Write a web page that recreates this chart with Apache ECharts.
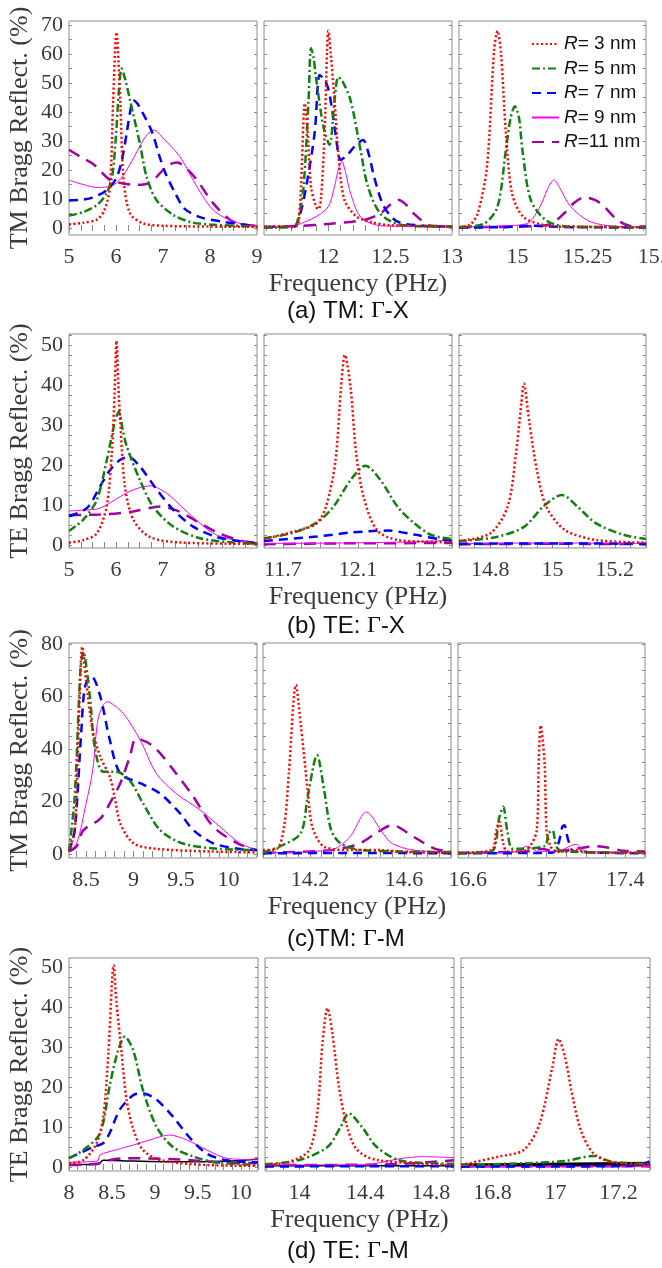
<!DOCTYPE html>
<html><head><meta charset="utf-8">
<script src="https://cdn.jsdelivr.net/npm/echarts@6/dist/echarts.min.js"></script>
<style>html,body{margin:0;padding:0;background:#fff}#c{width:662px;height:1268px}</style>
</head><body><div id="c"></div>
<script>
// ---------------- DATA ----------------
const seriesNames = ['R= 3 nm', 'R= 5 nm', 'R= 7 nm', 'R= 9 nm', 'R=11 nm'];
const rowYNames = ['TM Bragg Reflect. (%)', 'TE Bragg Reflect. (%)', 'TM Bragg Reflect. (%)', 'TE Bragg Reflect. (%)'];
const rowCaptions = ['(a) TM: ', '(b) TE: ', '(c)TM: ', '(d) TE: '];
const rowCaptionTails = ['-X', '-X', '-M', '-M'];
const xAxisTitle = 'Frequency (PHz)';

const rowYLabels = [
  [0, 10, 20, 30, 40, 50, 60, 70],
  [0, 10, 20, 30, 40, 50],
  [0, 20, 40, 60, 80],
  [0, 10, 20, 30, 40, 50]
];
const panelXLabels = [
  [5, 6, 7, 8, 9], [12, 12.5, 13], [15, 15.25],
  [5, 6, 7, 8], [11.7, 12.1, 12.5], [14.8, 15, 15.2],
  [8.5, 9, 9.5, 10], [14.2, 14.6], [16.6, 17, 17.4],
  [8, 8.5, 9, 9.5, 10], [14, 14.4, 14.8], [16.8, 17, 17.2]
];

// (a) TM: Γ-X
const a1_r3 = [[5,1.3],[5.3,1.8],[5.6,3],[5.75,6],[5.87,14],[5.94,44],[6.01,67.5],[6.09,44],[6.16,17],[6.3,5],[6.58,1.6],[7,0.8],[8,0.5],[9,0.4]];
const a1_r5 = [[5,4.3],[5.3,5.5],[5.6,8],[5.8,12],[5.92,18],[6.0,32],[6.06,47],[6.12,55],[6.2,51],[6.3,44],[6.51,29],[6.65,17.7],[6.86,9.7],[7.22,4.5],[7.6,2],[8,1.2],[9,0.5]];
const a1_r7 = [[5,9.5],[5.3,9.8],[5.5,10.5],[5.8,13],[6.0,17],[6.12,23],[6.23,33],[6.3,40],[6.37,44],[6.45,43],[6.56,40],[6.77,33],[6.92,25],[7.05,19],[7.26,12],[7.47,6.5],[7.82,3.6],[8.26,2.2],[9,0.5]];
const a1_r9 = [[5,16.5],[5.3,15],[5.6,14],[5.9,14.5],[6.1,17],[6.3,22],[6.5,28],[6.65,32],[6.81,33.8],[7.0,31],[7.36,24.6],[7.72,14.3],[8.07,6.2],[8.5,2.2],[9,0.8]];
const a1_r11 = [[5,27],[5.25,24.5],[5.52,22],[5.87,16.6],[6.1,15.5],[6.39,14.9],[6.72,15.6],[7.0,20],[7.15,22],[7.3,22.6],[7.5,20.5],[7.72,16.6],[8.07,8.5],[8.43,2.8],[8.7,1.3],[9,0.8]];

const a2_r3 = [[11.48,0.5],[11.74,0.6],[11.76,2],[11.78,15],[11.81,43],[11.83,35],[11.86,14.3],[11.9,7.4],[11.92,6.5],[11.94,9.7],[11.97,32.7],[11.99,61.5],[12.0,68],[12.02,60],[12.05,44],[12.08,26],[12.13,9.7],[12.23,3.9],[12.35,2],[12.5,1],[13,0.5]];
const a2_r5 = [[11.48,0.2],[11.72,0.3],[11.76,4],[11.8,14.3],[11.84,44],[11.86,62],[11.88,59],[11.9,52],[11.96,35],[12.01,28.7],[12.05,44],[12.08,52],[12.11,51],[12.18,44],[12.26,27],[12.32,14.3],[12.42,5],[12.56,1.4],[12.8,0.6],[13,0.5]];
const a2_r7 = [[11.48,0.3],[11.72,0.4],[11.76,3],[11.82,14],[11.89,33],[11.93,52.8],[11.97,51],[12.0,48],[12.03,41],[12.06,32],[12.1,23.5],[12.15,25],[12.21,28],[12.28,30.4],[12.33,25],[12.37,17.7],[12.45,7.4],[12.56,2.2],[12.77,0.8],[13,0.5]];
const a2_r9 = [[11.48,0.3],[11.72,0.4],[11.76,1.2],[11.9,3.9],[12.0,7.4],[12.05,14.3],[12.08,20],[12.11,23],[12.14,19],[12.18,12],[12.26,3.9],[12.42,0.8],[13,0.4]];
const a2_r11 = [[11.48,0.4],[11.75,0.7],[12.02,1.5],[12.29,2.8],[12.42,5],[12.5,8],[12.57,9.7],[12.63,8],[12.69,5],[12.83,0.8],[13,0.5]];

const a3_r3 = [[14.79,0.3],[14.83,1.2],[14.857,5],[14.89,21],[14.916,61.5],[14.928,68],[14.94,61],[14.958,32.7],[14.98,12],[15.02,3.9],[15.095,1],[15.2,0.4],[15.46,0.3]];
const a3_r5 = [[14.79,0.3],[14.88,1.5],[14.928,7.4],[14.958,27],[14.975,38],[14.99,42],[15.005,38],[15.017,27],[15.047,9.7],[15.1,2.8],[15.17,0.6],[15.46,0.3]];
const a3_r7 = [[14.79,0.2],[14.95,0.3],[15.05,0.8],[15.1,0.6],[15.2,0.3],[15.46,0.2]];
const a3_r9 = [[14.79,0.3],[14.95,0.8],[15.035,1.6],[15.08,7.4],[15.11,14],[15.13,16.6],[15.15,14],[15.19,7.4],[15.26,2.2],[15.35,0.6],[15.46,0.3]];
const a3_r11 = [[14.79,0.3],[15.05,0.6],[15.12,1.5],[15.166,5],[15.2,8.5],[15.24,10.6],[15.28,9.5],[15.31,7.4],[15.357,2.8],[15.4,0.8],[15.46,0.5]];

// (b) TE: Γ-X
const b1_r3 = [[5,0.6],[5.3,1.2],[5.59,2.9],[5.8,9.6],[5.91,23],[5.97,38],[6.01,51],[6.05,40],[6.09,31],[6.19,14.6],[6.37,6.3],[6.72,2],[7.4,0.6],[9,0.3]];
const b1_r5 = [[5,3.5],[5.3,6.3],[5.59,11.2],[5.8,21],[5.98,31],[6.06,33.3],[6.14,29],[6.23,24.6],[6.51,16.2],[6.79,9.6],[7.22,4.6],[7.79,1.7],[8.5,0.6],[9,0.3]];
const b1_r7 = [[5,7.2],[5.38,9.2],[5.66,14.6],[5.87,18.7],[6.09,21.3],[6.26,22],[6.51,19.6],[6.87,13.8],[7.22,8.8],[7.64,4.6],[8.14,2],[8.62,1],[9,0.4]];
const b1_r9 = [[5,8.5],[5.3,8.7],[5.66,9.2],[6.09,12.1],[6.37,13.8],[6.72,14.8],[7.08,12.9],[7.43,9.2],[7.79,5.4],[8.14,2.5],[8.62,1],[9,0.6]];
const b1_r11 = [[5,7.5],[5.66,7.6],[6.37,8.4],[6.94,9.6],[7.36,8.3],[7.79,5.4],[8.2,2.9],[8.69,1],[9,0.5]];

const b2_r3 = [[11.6,1.5],[11.79,3.75],[11.88,5.4],[11.93,9.6],[11.98,21],[12.01,39.6],[12.03,47.5],[12.06,39.6],[12.09,23],[12.13,12],[12.2,3.75],[12.31,1.25],[12.5,0.8],[12.6,0.6]];
const b2_r5 = [[11.6,1.7],[11.75,3],[11.88,5.6],[11.97,9.6],[12.06,16.2],[12.14,19.8],[12.22,16.2],[12.31,9.6],[12.4,5.4],[12.49,2.5],[12.6,1.5]];
const b2_r7 = [[11.6,1],[11.88,2.1],[12.06,3.1],[12.26,3.6],[12.4,2.6],[12.55,1.3],[12.6,1.1]];
const b2_r9 = [[11.6,0.4],[12.0,0.5],[12.4,0.8],[12.6,1.2]];
const b2_r11 = [[11.6,0.2],[12.0,0.4],[12.6,0.5]];

const b3_r3 = [[14.7,1],[14.8,2.9],[14.856,9.6],[14.883,23],[14.9,35.4],[14.908,40.4],[14.925,31],[14.95,18.7],[14.98,9.6],[15.04,3.75],[15.14,1.25],[15.3,0.6]];
const b3_r5 = [[14.7,1],[14.82,2],[14.91,4.6],[14.97,9.6],[15.03,12.5],[15.08,9.6],[15.14,5.4],[15.23,2.5],[15.3,1.5]];
const b3_r7 = [[14.7,0.3],[15.0,0.4],[15.3,0.3]];
const b3_r9 = [[14.7,0.4],[15.0,0.5],[15.3,0.4]];
const b3_r11 = [[14.7,0.2],[15.0,0.3],[15.3,0.2]];

// (c) TM: Γ-M
const c1_r3 = [[8.32,1.2],[8.38,9],[8.42,47],[8.46,79],[8.5,66],[8.57,47],[8.65,37],[8.75,29.4],[8.8,21.8],[8.86,11.7],[9.0,4.1],[9.24,2],[9.8,1],[10.3,0.6]];
const c1_r5 = [[8.32,1],[8.38,21.8],[8.44,70],[8.47,77],[8.54,60],[8.59,41],[8.68,31.4],[8.82,31.4],[8.96,28],[9.1,19.3],[9.28,9.1],[9.52,4],[9.9,2],[10.3,1.5]];
const c1_r7 = [[8.32,1],[8.38,9],[8.45,47],[8.49,64],[8.56,67.5],[8.65,60],[8.75,43.4],[8.86,30.7],[9.07,27],[9.28,23],[9.49,15.5],[9.63,9.1],[9.84,4.1],[10.1,2],[10.3,1.5]];
const c1_r9 = [[8.32,1.5],[8.4,4],[8.5,19.3],[8.57,32],[8.63,52],[8.72,58],[8.89,53.6],[9.07,43.4],[9.24,30.7],[9.45,23],[9.7,16.8],[9.91,10.4],[10.12,4.1],[10.3,1.5]];
const c1_r11 = [[8.32,1],[8.4,3],[8.47,9],[8.65,13.5],[8.75,19.3],[8.86,27],[8.96,37],[9.03,44],[9.21,41],[9.42,32],[9.63,21.8],[9.84,10.4],[10.1,4],[10.3,1.5]];

const c2_r3 = [[14.0,1.5],[14.06,2.1],[14.09,10.4],[14.11,30.7],[14.14,64.4],[14.16,50],[14.19,24.4],[14.21,10.4],[14.26,2.8],[14.38,1.5],[14.5,1.5],[14.6,0.8],[14.8,0.5]];
const c2_r5 = [[14.0,0.5],[14.07,2.8],[14.16,7.9],[14.19,21.8],[14.23,37.7],[14.26,24.4],[14.29,9.1],[14.33,4.1],[14.42,1.5],[14.8,0.8]];
const c2_r7 = [[14.0,0.3],[14.4,0.4],[14.8,0.3]];
const c2_r9 = [[14.0,0.5],[14.29,1.6],[14.37,6.6],[14.44,16],[14.51,7.9],[14.55,4],[14.64,1.5],[14.8,0.8]];
const c2_r11 = [[14.0,0.5],[14.29,1.5],[14.41,4],[14.48,7.9],[14.55,11],[14.64,6.6],[14.73,2.1],[14.8,1]];

const c3_r3 = [[16.55,0.5],[16.72,1.5],[16.745,9.1],[16.76,12.3],[16.78,4],[16.8,1],[16.88,1],[16.95,9],[16.96,34.5],[16.97,49],[16.99,34.5],[17.0,9.1],[17.02,3],[17.05,0.8],[17.15,1.5],[17.25,0.5],[17.5,0.5]];
const c3_r5 = [[16.55,0.3],[16.72,1],[16.76,14],[16.78,18],[16.8,9.1],[16.83,2],[16.99,3],[17.01,7.9],[17.03,9],[17.05,2.8],[17.08,1],[17.5,0.5]];
const c3_r7 = [[16.55,0.3],[17.03,0.5],[17.06,4],[17.08,10.4],[17.09,11],[17.11,5.3],[17.14,1],[17.5,0.3]];
const c3_r9 = [[16.55,0.3],[16.84,0.8],[16.9,3],[16.95,1.2],[17.05,1],[17.15,3.7],[17.2,1],[17.5,0.5]];
const c3_r11 = [[16.55,0.5],[16.9,1],[16.96,2],[17.05,1.2],[17.26,3],[17.39,1.3],[17.5,1]];

// (d) TE: Γ-M
const d1_r3 = [[8,0.9],[8.17,1.75],[8.32,5.9],[8.4,12.6],[8.46,29],[8.52,50.5],[8.55,41.8],[8.61,29],[8.67,16.8],[8.75,9.3],[8.86,4.3],[9.06,1.75],[9.6,0.5],[10.2,0.3]];
const d1_r5 = [[8,2.2],[8.17,4.3],[8.36,8.4],[8.48,21],[8.57,29],[8.65,32.6],[8.75,29],[8.86,19.3],[9.02,10],[9.21,5],[9.45,2.6],[9.7,1.2],[10.2,0.5]];
const d1_r7 = [[8,2.2],[8.28,5],[8.4,6],[8.48,8.8],[8.59,14.3],[8.75,18],[8.86,18.4],[9.02,16.8],[9.21,12.6],[9.41,7.2],[9.6,3.4],[9.8,1.8],[10.0,1.3],[10.2,1.2]];
const d1_r9 = [[8,1.2],[8.33,1.5],[8.36,3],[8.55,4.3],[8.75,5.5],[8.94,6.75],[9.17,8],[9.37,6.75],[9.6,4.3],[9.83,2.2],[10.2,1.8]];
const d1_r11 = [[8,0.5],[8.32,0.8],[8.48,1.75],[8.67,2.2],[9.15,2],[9.55,1.5],[9.9,1],[10.2,1]];
const d1_ref = [[8,0.6],[8.33,0.6],[8.4,1.7],[8.75,1.5],[9.4,1.3],[9.9,1.5],[10.2,2]];

const d2_r3 = [[13.79,0.5],[13.94,1.3],[14.06,4.3],[14.11,14.3],[14.14,31],[14.17,39.7],[14.2,33.4],[14.24,20],[14.29,10],[14.35,4.3],[14.47,1.75],[14.94,0.4]];
const d2_r5 = [[13.79,0.7],[14.0,1.75],[14.17,5],[14.25,10],[14.3,13.4],[14.38,10],[14.47,5],[14.6,1.75],[14.76,1],[14.94,0.8]];
const d2_r7 = [[13.79,0.1],[14.4,0.2],[14.94,0.2]];
const d2_r9 = [[13.79,0.5],[14.4,0.6],[14.6,2],[14.75,2.6],[14.94,2.3]];
const d2_r11 = [[13.79,0.5],[14.5,0.6],[14.94,1.7]];
const d2_ref = [[13.79,0.3],[14.94,0.3]];

const d3_r3 = [[16.7,0.5],[16.82,2.6],[16.9,4.3],[16.95,11],[16.99,25],[17.01,32],[17.03,27.6],[17.05,19.3],[17.08,9.3],[17.12,3.4],[17.18,1.2],[17.3,0.6]];
const d3_r5 = [[16.7,0.5],[16.92,1],[17.03,1.5],[17.12,2.75],[17.18,1.3],[17.3,0.8]];
const d3_r7 = [[16.7,0.1],[17.2,0.2],[17.28,0.8],[17.3,1.5]];
const d3_r9 = [[16.7,0.1],[17.3,0.1]];
const d3_r11 = [[16.7,0.2],[17.3,0.2]];
const d3_ref = [[16.7,0.4],[17.3,0.8]];

const panelData = [
  [a1_r3,a1_r5,a1_r7,a1_r9,a1_r11], [a2_r3,a2_r5,a2_r7,a2_r9,a2_r11], [a3_r3,a3_r5,a3_r7,a3_r9,a3_r11],
  [b1_r3,b1_r5,b1_r7,b1_r9,b1_r11], [b2_r3,b2_r5,b2_r7,b2_r9,b2_r11], [b3_r3,b3_r5,b3_r7,b3_r9,b3_r11],
  [c1_r3,c1_r5,c1_r7,c1_r9,c1_r11], [c2_r3,c2_r5,c2_r7,c2_r9,c2_r11], [c3_r3,c3_r5,c3_r7,c3_r9,c3_r11],
  [d1_r3,d1_r5,d1_r7,d1_r9,d1_r11], [d2_r3,d2_r5,d2_r7,d2_r9,d2_r11], [d3_r3,d3_r5,d3_r7,d3_r9,d3_r11]
];
const refData = {9: d1_ref, 10: d2_ref, 11: d3_ref};

// ---------------- LAYOUT / STYLE ----------------
const panelX = [ // [xmin, xmax, minor tick step]
  [5, 9, 0.25], [11.48, 13, 0.1], [14.79, 15.46, 0.05],
  [5, 9, 0.25], [11.6, 12.6, 0.1], [14.7, 15.3, 0.05],
  [8.32, 10.3, 0.1], [14.0, 14.8, 0.05], [16.55, 17.5, 0.1],
  [8, 10.2, 0.1], [13.79, 14.94, 0.1], [16.7, 17.3, 0.05]
];
const rowY = [ // [ymin, ymax, tick step]
  [-2.4, 71.4, 5], [-0.75, 52.75, 2.5], [-1.5, 80.4, 5], [-1, 52.25, 2.5]
];
const rowBox = [ // [top, height]
  [21, 214], [334, 214], [643, 215], [958, 213]
];
const colBox = [ // per row: [[left,width] x3]
  [[69,188],[264,188],[459,187]],
  [[69,188],[264,188],[459,187]],
  [[69,188],[263,188],[458,187]],
  [[69,189],[265,189],[461,189]]
];
const captionY = [312, 627, 940, 1252];

const styles = [
  {color:'#ff0000', width:2.5, type:[2,2.5]},
  {color:'#10800f', width:2.5, type:[8,3,2,3]},
  {color:'#0000ff', width:2.5, type:[9,6]},
  {color:'#ff00ff', width:1, type:'solid'},
  {color:'#a000a8', width:2.5, type:[12,8]}
];
const SERIF = '"Liberation Serif","Times New Roman",serif';
const SANS = '"Liberation Sans",Arial,sans-serif';
const TXT = '#3a3a3a';

function range(a, b, s) {
  const out = [];
  for (let k = 0; ; k++) { const v = +(a + k * s).toFixed(6); if (v > b + 1e-9) break; out.push(v); }
  return out;
}

const grids = [], xAxes = [], yAxes = [], series = [];
const xMirror = [], yMirror = [];
const tickStyle = {show: true, inside: true, length: 3, lineStyle: {color: '#888', width: 1}};
for (let p = 0; p < 12; p++) {
  const r = Math.floor(p / 3), c = p % 3;
  grids.push({left: colBox[r][c][0], top: rowBox[r][0], width: colBox[r][c][1], height: rowBox[r][1],
    show: true, borderColor: '#8c8c8c', borderWidth: 1, backgroundColor: '#fff',
    containLabel: false, outerBoundsMode: 'none'});
  const [xmin, xmax, xs] = panelX[p];
  const startTick = Math.ceil(xmin / xs - 1e-9) * xs;
  const xt = range(startTick, xmax, xs);
  xAxes.push({type: 'value', gridIndex: p, min: xmin, max: xmax,
    axisLine: {show: false}, splitLine: {show: false},
    axisTick: Object.assign({customValues: xt}, tickStyle),
    axisLabel: {show: true, customValues: panelXLabels[p], fontFamily: SERIF, fontSize: 22, color: TXT, margin: 11,
      formatter: v => String(v)},
    name: c === 1 ? xAxisTitle : '', nameLocation: 'middle', nameGap: 36,
    nameTextStyle: {fontFamily: SERIF, fontSize: 26, color: TXT}
  });
  xMirror.push({type: 'value', gridIndex: p, min: xmin, max: xmax, position: 'top',
    axisLine: {show: false}, splitLine: {show: false}, axisLabel: {show: false},
    axisTick: Object.assign({customValues: xt}, tickStyle)});
  const [ymin, ymax, ys] = rowY[r];
  const yt = range(0, ymax, ys);
  yAxes.push({type: 'value', gridIndex: p, min: ymin, max: ymax,
    axisLine: {show: false}, splitLine: {show: false},
    axisTick: Object.assign({customValues: yt}, tickStyle),
    axisLabel: {show: c === 0, customValues: rowYLabels[r], fontFamily: SERIF, fontSize: 22, color: TXT, margin: 6},
    name: c === 0 ? rowYNames[r] : '', nameLocation: 'middle', nameGap: 36,
    nameTextStyle: {fontFamily: SERIF, fontSize: 26, color: TXT}
  });
  yMirror.push({type: 'value', gridIndex: p, min: ymin, max: ymax, position: 'right',
    axisLine: {show: false}, splitLine: {show: false}, axisLabel: {show: false},
    axisTick: Object.assign({customValues: yt}, tickStyle)});
  if (refData[p]) {
    series.push({type: 'line', xAxisIndex: p, yAxisIndex: p, data: refData[p], symbol: 'none', smooth: 0.3,
      lineStyle: {color: '#000', width: p === 11 ? 4 : 1.5}, silent: true, z: 1});
  }
  panelData[p].forEach((d, k) => {
    const st = styles[k];
    series.push({type: 'line', name: seriesNames[k], xAxisIndex: p, yAxisIndex: p, data: d,
      symbol: 'none', showSymbol: false, smooth: 0.3, silent: true, z: 2 + (4 - k),
      itemStyle: {color: st.color},
      lineStyle: {color: st.color, width: st.width, type: st.type, cap: 'butt'}});
  });
}

const graphics = [];
for (let r = 0; r < 4; r++) {
  graphics.push({type: 'text', left: 287, top: captionY[r] - 13,
    style: {text: rowCaptions[r] + '{g|Γ}' + rowCaptionTails[r], font: '24px ' + SANS, fill: '#111',
      rich: {g: {fontFamily: SERIF, fontSize: 24, fill: '#111'}}}});
}
// truncated last tick label of panel (a) right
graphics.push({type: 'text', x: 657, y: 235 + 11,
  style: {text: '15.5', font: '22px ' + SERIF, fill: TXT, textAlign: 'center', textVerticalAlign: 'top'}});

const chart = echarts.init(document.getElementById('c'), null, {renderer: 'canvas'});
chart.setOption({
  animation: false,
  backgroundColor: '#fff',
  grid: grids, xAxis: xAxes.concat(xMirror), yAxis: yAxes.concat(yMirror), series: series,
  legend: {
    data: seriesNames, orient: 'vertical', left: 531, top: 34, itemWidth: 27, itemHeight: 12, itemGap: 4.5,
    selectedMode: false, padding: 0,
    itemStyle: {opacity: 0, borderWidth: 0},
    textStyle: {fontFamily: SANS, fontSize: 19, color: '#111', lineHeight: 20,
      rich: {i: {fontStyle: 'italic', fontFamily: SANS, fontSize: 19, color: '#111'}}},
    formatter: n => '{i|R}' + n.slice(1)
  },
  graphic: graphics
});
</script>
</body></html>
